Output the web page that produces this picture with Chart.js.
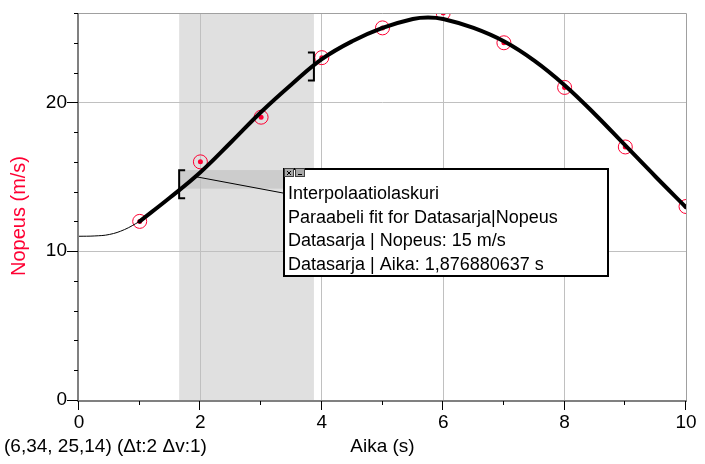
<!DOCTYPE html>
<html>
<head>
<meta charset="utf-8">
<script src="https://cdn.jsdelivr.net/npm/chart.js@4/dist/chart.umd.min.js"></script>
<style>
  html, body { margin: 0; padding: 0; background: #fff; }
  canvas { display: block; }
</style>
</head>
<body>
<canvas id="chart" width="705" height="464"></canvas>
<script>
// Measured samples
const times = [1, 2, 3, 4, 5, 6, 7, 8, 9, 10];
const speeds = [12, 16, 19, 23, 25, 26, 24, 21, 17, 13];

// Fit curve
const fitTimes = [1, 1.5, 2, 2.5, 3, 3.5, 4, 4.5, 5, 5.5, 5.75, 6, 6.5, 7, 7.5, 8, 8.5, 9, 9.5, 10];
const fitSpeeds = [12.0, 13.6, 15.3, 17.3, 19.35, 21.2, 22.9, 24.1, 25.0, 25.6, 25.7, 25.6, 25.0, 24.1, 22.8, 21.15, 19.2, 17.1, 15.0, 12.95];
const leadTimes = [0, 0.25, 0.5, 0.75, 1];
const leadSpeeds = [11.0, 11.02, 11.12, 11.45, 12.0];

// Selection range and interpolation readout
const rangeTimes = [1.65, 3.87];
const bracketSpeeds = [14.5, 22.4];
const bandSpeeds = [15.45, 14.2];
const interpTime = 1.876880637;
const interpSpeed = 15;
const boxLines = [
    'Interpolaatiolaskuri',
    'Paraabeli fit for Datasarja|Nopeus',
    'Datasarja | Nopeus: 15 m/s',
    'Datasarja | Aika: 1,876880637 s'
];
const cursorText = '(6,34, 25,14) (\u0394t:2 \u0394v:1)';

const xMajor = 2;
const yMajor = 10;

const RED = '#ff0033';
const FONT = "'Liberation Sans', Arial, sans-serif";

function toXY(xs, ys) {
    return xs.map((v, i) => ({ x: v, y: ys[i] }));
}

// keep the plot box where the reference has it
function noPadding(s) {
    s.paddingTop = 0;
    s.paddingBottom = 0;
    s.paddingLeft = 0;
    s.paddingRight = 0;
}

const overlay = {
    id: 'overlay',
    beforeDraw(chart) {
        const { ctx, chartArea: a, scales: { x, y } } = chart;
        const x0 = x.getPixelForValue(rangeTimes[0]);
        const x1 = x.getPixelForValue(rangeTimes[1]);
        ctx.save();
        ctx.fillStyle = '#e0e0e0';
        ctx.fillRect(x0, a.top, x1 - x0, a.bottom - a.top);
        // band leading to the readout box
        const b0 = y.getPixelForValue(bandSpeeds[0]);
        const b1 = y.getPixelForValue(bandSpeeds[1]);
        ctx.fillStyle = '#cccccc';
        ctx.fillRect(x0, b0, 283 - x0, b1 - b0);
        ctx.restore();
    },
    afterDatasetsDraw(chart) {
        const { ctx, chartArea: a, scales: { x, y } } = chart;
        ctx.save();
        // frame
        ctx.strokeStyle = '#a0a0a0';
        ctx.lineWidth = 1;
        ctx.beginPath();
        ctx.moveTo(a.left, a.top + 0.5);
        ctx.lineTo(a.right + 0.5, a.top + 0.5);
        ctx.lineTo(a.right + 0.5, a.bottom);
        ctx.stroke();
        ctx.strokeStyle = '#808080';
        ctx.lineWidth = 2;
        ctx.beginPath();
        ctx.moveTo(a.left - 1, a.top);
        ctx.lineTo(a.left - 1, a.bottom + 1);
        ctx.lineTo(a.right + 1, a.bottom + 1);
        ctx.stroke();

        // tick marks
        ctx.strokeStyle = '#000';
        ctx.lineWidth = 1;
        ctx.beginPath();
        for (let v = 0; v <= 26; v += 2) {
            const py = Math.round(y.getPixelForValue(v)) + 0.5;
            const len = v % yMajor === 0 ? 11 : 4;
            ctx.moveTo(a.left - 1 - len, py);
            ctx.lineTo(a.left - 1, py);
        }
        for (let v = 0; v <= 10; v += 1) {
            const px = Math.round(x.getPixelForValue(v)) - 0.5;
            const len = v % xMajor === 0 ? 9 : 4;
            ctx.moveTo(px, a.bottom + 1);
            ctx.lineTo(px, a.bottom + 1 + len);
        }
        ctx.stroke();
        ctx.restore();
    },
    afterDraw(chart) {
        const { ctx, scales: { x, y } } = chart;
        ctx.save();

        // range brackets
        ctx.strokeStyle = '#000';
        ctx.lineWidth = 2;
        [0, 1].forEach(i => {
            const px = x.getPixelForValue(rangeTimes[i]);
            const py = y.getPixelForValue(bracketSpeeds[i]);
            const dir = i === 0 ? 1 : -1;
            ctx.beginPath();
            ctx.moveTo(px + dir * 6, py - 14);
            ctx.lineTo(px, py - 14);
            ctx.lineTo(px, py + 14);
            ctx.lineTo(px + dir * 6, py + 14);
            ctx.stroke();
        });

        // leader line
        ctx.lineWidth = 1;
        ctx.beginPath();
        ctx.moveTo(x.getPixelForValue(interpTime) + 3, y.getPixelForValue(interpSpeed));
        ctx.lineTo(283, 193);
        ctx.stroke();

        // readout box
        ctx.fillStyle = '#fff';
        ctx.fillRect(283, 168, 326, 109);
        ctx.lineWidth = 2;
        ctx.strokeRect(284, 169, 324, 107);
        ctx.fillStyle = '#000';
        ctx.font = '18px ' + FONT;
        ctx.textAlign = 'left';
        ctx.textBaseline = 'alphabetic';
        boxLines.forEach((t, i) => ctx.fillText(t, 288, 199 + i * 23.5));

        // close / minimise buttons
        ctx.lineWidth = 1;
        [284, 295].forEach((bx, i) => {
            ctx.fillStyle = '#a8a8a8';
            ctx.fillRect(bx, 168, 10, 9);
            ctx.strokeStyle = '#404040';
            ctx.strokeRect(bx + 0.5, 168.5, 9, 8);
            ctx.strokeStyle = '#000';
            ctx.beginPath();
            if (i === 0) {
                ctx.moveTo(bx + 3, 171); ctx.lineTo(bx + 7, 175);
                ctx.moveTo(bx + 7, 171); ctx.lineTo(bx + 3, 175);
            } else {
                ctx.moveTo(bx + 3, 174.5); ctx.lineTo(bx + 7, 174.5);
            }
            ctx.stroke();
        });

        // y axis title
        ctx.fillStyle = RED;
        ctx.font = '20px ' + FONT;
        ctx.translate(19, 216);
        ctx.rotate(-Math.PI / 2);
        ctx.textAlign = 'center';
        ctx.textBaseline = 'middle';
        ctx.fillText('Nopeus (m/s)', 0, 0);
        ctx.restore();

        // cursor readout
        ctx.save();
        ctx.fillStyle = '#000';
        ctx.font = '19px ' + FONT;
        ctx.textAlign = 'left';
        ctx.textBaseline = 'alphabetic';
        ctx.fillText(cursorText, 4, 452);
        ctx.restore();
    }
};

const ctx = document.getElementById('chart').getContext('2d');
new Chart(ctx, {
    type: 'scatter',
    data: {
        datasets: [
            {
                type: 'line',
                data: toXY(fitTimes, fitSpeeds),
                borderColor: '#000',
                borderWidth: 4,
                pointRadius: 0,
                tension: 0.4,
                borderCapStyle: 'round',
                fill: false,
                clip: 0
            },
            {
                type: 'line',
                data: toXY(leadTimes, leadSpeeds),
                borderColor: '#000',
                borderWidth: 1,
                pointRadius: 0,
                tension: 0.4,
                fill: false,
                clip: 0
            },
            {
                data: toXY(times, speeds),
                pointRadius: 2.5,
                backgroundColor: RED,
                borderWidth: 0,
                clip: 0
            },
            {
                data: toXY(times, speeds),
                pointRadius: 7,
                borderColor: RED,
                borderWidth: 1,
                backgroundColor: 'rgba(0,0,0,0)',
                clip: 0
            }
        ]
    },
    options: {
        responsive: false,
        animation: false,
        events: [],
        layout: { padding: { top: 13, right: 19, left: 0, bottom: 0 } },
        plugins: {
            legend: { display: false },
            tooltip: { enabled: false }
        },
        scales: {
            x: {
                type: 'linear',
                min: 0,
                max: 10,
                afterFit: s => { s.height = 64; noPadding(s); },
                border: { display: false },
                grid: {
                    drawTicks: false,
                    color: c => (c.tick && c.tick.value % xMajor === 0 && c.tick.value > 0 && c.tick.value < 10) ? '#c0c0c0' : 'rgba(0,0,0,0)'
                },
                ticks: {
                    stepSize: 1,
                    autoSkip: false,
                    maxRotation: 0,
                    padding: 11,
                    color: '#000',
                    font: { family: FONT, size: 19 },
                    callback: v => v % xMajor === 0 ? v : ''
                },
                title: {
                    display: true,
                    text: 'Aika (s)',
                    color: '#000',
                    font: { family: FONT, size: 19 },
                    padding: { top: 0, bottom: 6 }
                }
            },
            y: {
                min: 0,
                max: 26,
                afterFit: s => { s.width = 79; noPadding(s); },
                border: { display: false },
                grid: {
                    drawTicks: false,
                    color: c => (c.tick && c.tick.value % yMajor === 0 && c.tick.value > 0) ? '#c0c0c0' : 'rgba(0,0,0,0)'
                },
                ticks: {
                    stepSize: 2,
                    autoSkip: false,
                    padding: 12,
                    color: '#000',
                    font: { family: FONT, size: 19 },
                    callback: v => v % yMajor === 0 ? v : ''
                }
            }
        }
    },
    plugins: [overlay]
});
</script>
</body>
</html>
